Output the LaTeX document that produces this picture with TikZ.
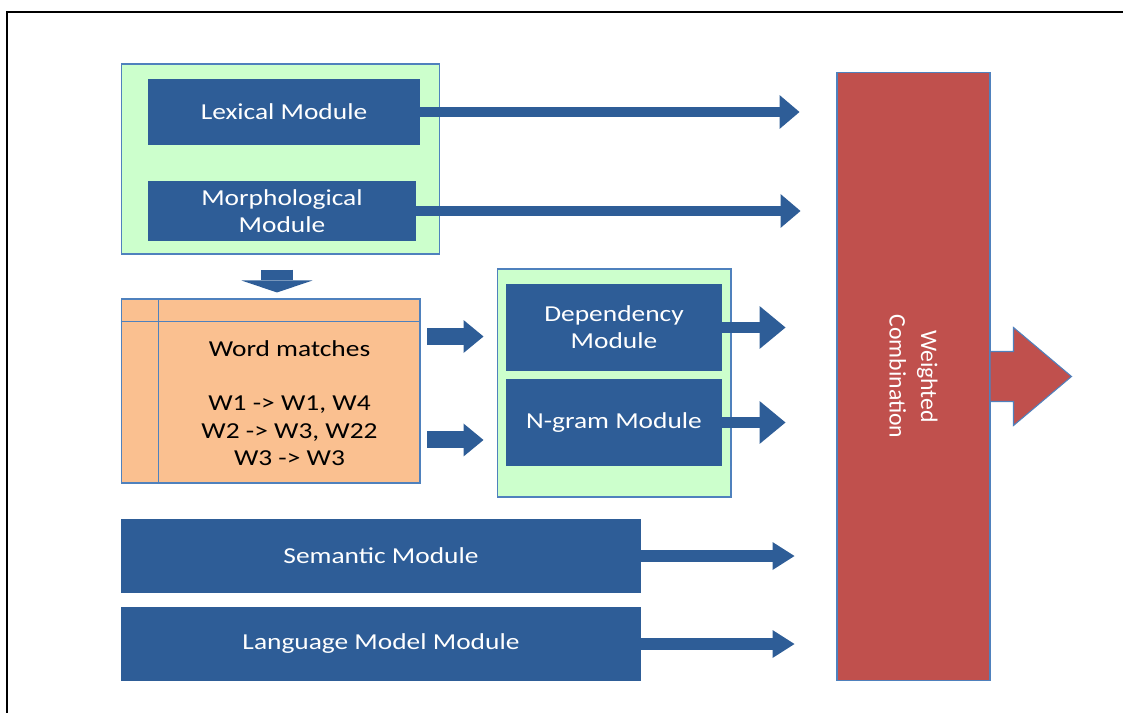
\documentclass[tikz,border=0pt]{standalone}
\usepackage{fontspec}
\setmainfont[FakeStretch=1.2]{Carlito}
\newfontfamily\rotfont{Carlito}
\usetikzlibrary{arrows.meta,positioning}
\definecolor{ModBlue}{HTML}{2E5D97}
\definecolor{EdgeBlue}{HTML}{4F81BD}
\definecolor{PanelGreen}{HTML}{CCFFCC}
\definecolor{MatchOrange}{HTML}{FAC090}
\definecolor{CombRed}{HTML}{C0504D}

\begin{document}
\begin{tikzpicture}[
  x=0.02cm, y=-0.02cm,
  panel/.style={draw=EdgeBlue, line width=0.6pt, fill=PanelGreen, inner sep=0pt},
  module/.style={fill=ModBlue, text=white, align=center, inner sep=0pt, font=\fontsize{13}{15.5}\selectfont},
  matchbox/.style={draw=EdgeBlue, line width=0.6pt, fill=MatchOrange, inner sep=0pt},
  matchline/.style={draw=EdgeBlue, line width=0.6pt},
  combine/.style={draw=EdgeBlue, line width=0.6pt, fill=CombRed, inner sep=0pt},
  outarrow/.style={draw=EdgeBlue, line width=0.6pt, fill=CombRed, line join=miter},
  flow/.style n args={3}{draw=ModBlue, line width=#1, -{Triangle[length=#2, width=#3, line width=0pt]}}
]
\useasboundingbox (0,0) rectangle (1123,713);
\draw[line width=1.1pt] (7,714) -- (7,12) -- (1124,12);

% left column
\node[panel, minimum width=6.38cm, minimum height=3.8cm] (lexpanel) at (280.5,159) {};
\node[module, minimum width=5.44cm, minimum height=1.32cm] (lex) at (284,112) {Lexical Module};
\node[module, minimum width=5.36cm, minimum height=1.2cm] (morph) at (282,211) {Morphological\\Module};

\node[matchbox, minimum width=5.98cm, minimum height=3.68cm] (wm) at (270.5,391) {};
\draw[matchline] ([xshift=0.76cm]wm.north west) -- ([xshift=0.76cm]wm.south west);
\draw[matchline] ([yshift=-0.46cm]wm.north west) -- ([yshift=-0.46cm]wm.north east);
\node[align=center, font=\fontsize{13}{15.5}\selectfont] (matches) at (289.5,403) {Word matches\\[15.5pt]W1 -> W1, W4\\W2 -> W3, W22\\W3 -> W3};

% syntactic modules
\node[panel, minimum width=4.68cm, minimum height=4.56cm] (synpanel) at (614,383) {};
\node[module, minimum width=4.32cm, minimum height=1.74cm] (dep) at (614,327.5) {Dependency\\Module};
\node[module, minimum width=4.32cm, minimum height=1.74cm] (ngram) at (614,422.5) {N-gram Module};

\node[module, minimum width=10.4cm, minimum height=1.48cm] (sem) at (381,556) {Semantic Module};
\node[module, minimum width=10.4cm, minimum height=1.48cm] (lm) at (381,644) {Language Model Module};

% combination
\node[combine, minimum width=3.06cm, minimum height=12.18cm] (wc) at (913.5,376.5) {};
\node[rotate=-90, text=white, align=center, font=\rotfont\fontsize{13.5}{18}\selectfont] (wclabel) at (wc.center) {Weighted\\Combination};
\draw[outarrow] (wc.east) ++(0,-25) -- ++(23,0) -- ++(0,-24) -- ++(58,49) -- ++(-58,49) -- ++(0,-24) -- ++(-23,0);

% arrows
\coordinate (wmA) at ([yshift=1.09cm]wm.east);
\coordinate (wmB) at ([yshift=-0.98cm]wm.east);
\draw[flow={0.66cm}{0.24cm}{1.42cm}, shorten <=0.3cm, shorten >=0.12cm] ([xshift=-0.07cm]lexpanel.south) -- ([xshift=-0.07cm]lexpanel.south |- wm.north);
\draw[flow={0.34cm}{0.4cm}{0.66cm}, shorten <=0.14cm, shorten >=0.26cm] (wmA) -- (wmA -| synpanel.west);
\draw[flow={0.34cm}{0.4cm}{0.66cm}, shorten <=0.14cm, shorten >=0.26cm] (wmB) -- (wmB -| synpanel.west);
\draw[flow={0.2cm}{0.4cm}{0.68cm}, shorten >=0.74cm] (lex.east) -- (lex.east -| wc.west);
\draw[flow={0.2cm}{0.4cm}{0.68cm}, shorten >=0.72cm] (morph.east) -- (morph.east -| wc.west);
\draw[flow={0.22cm}{0.52cm}{0.86cm}, shorten >=1.02cm] (dep.east) -- (dep.east -| wc.west);
\draw[flow={0.22cm}{0.52cm}{0.86cm}, shorten >=1.02cm] (ngram.east) -- (ngram.east -| wc.west);
\draw[flow={0.24cm}{0.44cm}{0.56cm}, shorten >=0.84cm] (sem.east) -- (sem.east -| wc.west);
\draw[flow={0.24cm}{0.44cm}{0.56cm}, shorten >=0.84cm] (lm.east) -- (lm.east -| wc.west);
\end{tikzpicture}
\end{document}
